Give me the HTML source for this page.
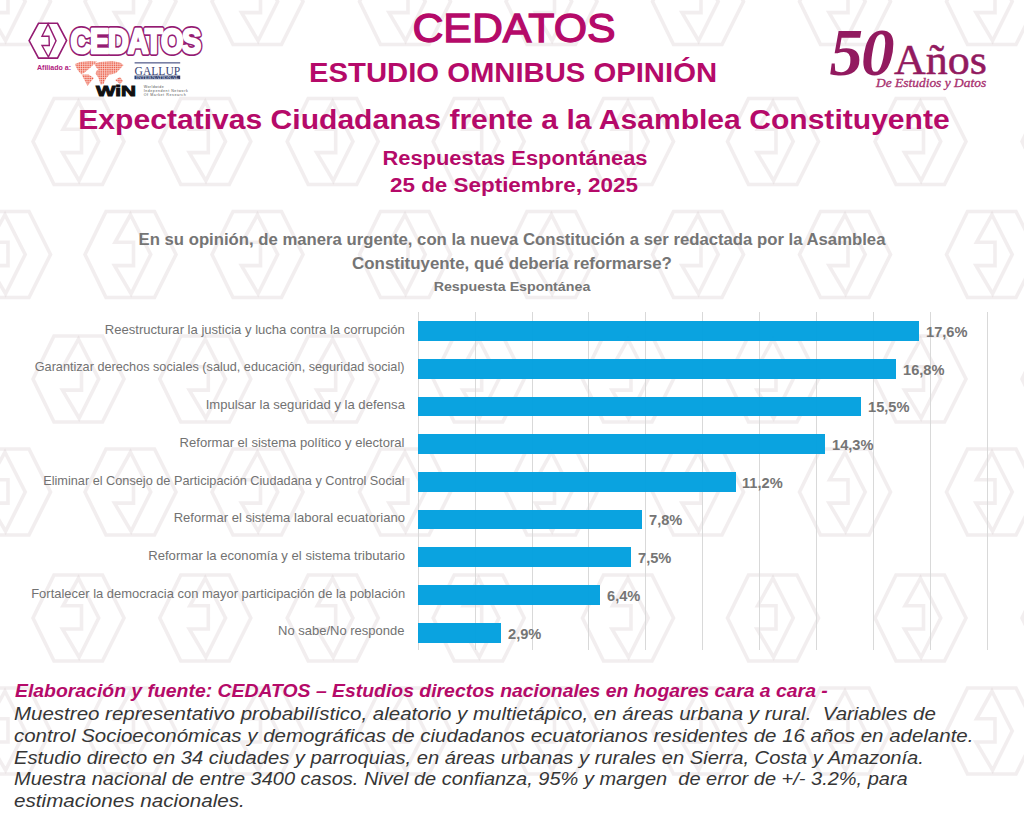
<!DOCTYPE html>
<html><head><meta charset="utf-8">
<style>
html,body{margin:0;padding:0;background:#fff;}
body{width:1024px;height:816px;position:relative;overflow:hidden;font-family:"Liberation Sans", sans-serif;}
.t{position:absolute;white-space:nowrap;}
</style></head><body>
<svg style="position:absolute;left:0;top:0" width="1024" height="816" viewBox="0 0 1024 816"><g fill="none" stroke="#d8ccd1" stroke-opacity="0.34" stroke-width="3.6" stroke-linejoin="miter"><polygon points="-40.5,1.5 -19.5,-41.5 29.0,-41.5 50.5,1.5 29.0,44.5 -19.5,44.5"/><polygon points="5.0,-38.3 25.2,1.5 5.6,40.7 -11.0,12.6 8.0,12.6 8.0,-10.7 -10.4,-10.7"/><polygon points="85.0,1.5 106.0,-41.5 154.5,-41.5 176.0,1.5 154.5,44.5 106.0,44.5"/><polygon points="130.5,-38.3 150.7,1.5 131.1,40.7 114.5,12.6 133.5,12.6 133.5,-10.7 115.1,-10.7"/><polygon points="212.0,1.5 233.0,-41.5 281.5,-41.5 303.0,1.5 281.5,44.5 233.0,44.5"/><polygon points="257.5,-38.3 277.7,1.5 258.1,40.7 241.5,12.6 260.5,12.6 260.5,-10.7 242.1,-10.7"/><polygon points="359.5,1.5 380.5,-41.5 429.0,-41.5 450.5,1.5 429.0,44.5 380.5,44.5"/><polygon points="405.0,-38.3 425.2,1.5 405.6,40.7 389.0,12.6 408.0,12.6 408.0,-10.7 389.6,-10.7"/><polygon points="506.0,1.5 527.0,-41.5 575.5,-41.5 597.0,1.5 575.5,44.5 527.0,44.5"/><polygon points="551.5,-38.3 571.7,1.5 552.1,40.7 535.5,12.6 554.5,12.6 554.5,-10.7 536.1,-10.7"/><polygon points="652.5,1.5 673.5,-41.5 722.0,-41.5 743.5,1.5 722.0,44.5 673.5,44.5"/><polygon points="698.0,-38.3 718.2,1.5 698.6,40.7 682.0,12.6 701.0,12.6 701.0,-10.7 682.6,-10.7"/><polygon points="799.5,1.5 820.5,-41.5 869.0,-41.5 890.5,1.5 869.0,44.5 820.5,44.5"/><polygon points="845.0,-38.3 865.2,1.5 845.6,40.7 829.0,12.6 848.0,12.6 848.0,-10.7 829.6,-10.7"/><polygon points="946.5,1.5 967.5,-41.5 1016.0,-41.5 1037.5,1.5 1016.0,44.5 967.5,44.5"/><polygon points="992.0,-38.3 1012.2,1.5 992.6,40.7 976.0,12.6 995.0,12.6 995.0,-10.7 976.6,-10.7"/><polygon points="-40.5,254.5 -19.5,211.5 29.0,211.5 50.5,254.5 29.0,297.5 -19.5,297.5"/><polygon points="5.0,214.7 25.2,254.5 5.6,293.7 -11.0,265.6 8.0,265.6 8.0,242.3 -10.4,242.3"/><polygon points="85.0,254.5 106.0,211.5 154.5,211.5 176.0,254.5 154.5,297.5 106.0,297.5"/><polygon points="130.5,214.7 150.7,254.5 131.1,293.7 114.5,265.6 133.5,265.6 133.5,242.3 115.1,242.3"/><polygon points="212.0,254.5 233.0,211.5 281.5,211.5 303.0,254.5 281.5,297.5 233.0,297.5"/><polygon points="257.5,214.7 277.7,254.5 258.1,293.7 241.5,265.6 260.5,265.6 260.5,242.3 242.1,242.3"/><polygon points="359.5,254.5 380.5,211.5 429.0,211.5 450.5,254.5 429.0,297.5 380.5,297.5"/><polygon points="405.0,214.7 425.2,254.5 405.6,293.7 389.0,265.6 408.0,265.6 408.0,242.3 389.6,242.3"/><polygon points="506.0,254.5 527.0,211.5 575.5,211.5 597.0,254.5 575.5,297.5 527.0,297.5"/><polygon points="551.5,214.7 571.7,254.5 552.1,293.7 535.5,265.6 554.5,265.6 554.5,242.3 536.1,242.3"/><polygon points="652.5,254.5 673.5,211.5 722.0,211.5 743.5,254.5 722.0,297.5 673.5,297.5"/><polygon points="698.0,214.7 718.2,254.5 698.6,293.7 682.0,265.6 701.0,265.6 701.0,242.3 682.6,242.3"/><polygon points="799.5,254.5 820.5,211.5 869.0,211.5 890.5,254.5 869.0,297.5 820.5,297.5"/><polygon points="845.0,214.7 865.2,254.5 845.6,293.7 829.0,265.6 848.0,265.6 848.0,242.3 829.6,242.3"/><polygon points="946.5,254.5 967.5,211.5 1016.0,211.5 1037.5,254.5 1016.0,297.5 967.5,297.5"/><polygon points="992.0,214.7 1012.2,254.5 992.6,293.7 976.0,265.6 995.0,265.6 995.0,242.3 976.6,242.3"/><polygon points="-40.5,492.0 -19.5,449.0 29.0,449.0 50.5,492.0 29.0,535.0 -19.5,535.0"/><polygon points="5.0,452.2 25.2,492.0 5.6,531.2 -11.0,503.1 8.0,503.1 8.0,479.8 -10.4,479.8"/><polygon points="85.0,492.0 106.0,449.0 154.5,449.0 176.0,492.0 154.5,535.0 106.0,535.0"/><polygon points="130.5,452.2 150.7,492.0 131.1,531.2 114.5,503.1 133.5,503.1 133.5,479.8 115.1,479.8"/><polygon points="212.0,492.0 233.0,449.0 281.5,449.0 303.0,492.0 281.5,535.0 233.0,535.0"/><polygon points="257.5,452.2 277.7,492.0 258.1,531.2 241.5,503.1 260.5,503.1 260.5,479.8 242.1,479.8"/><polygon points="359.5,492.0 380.5,449.0 429.0,449.0 450.5,492.0 429.0,535.0 380.5,535.0"/><polygon points="405.0,452.2 425.2,492.0 405.6,531.2 389.0,503.1 408.0,503.1 408.0,479.8 389.6,479.8"/><polygon points="506.0,492.0 527.0,449.0 575.5,449.0 597.0,492.0 575.5,535.0 527.0,535.0"/><polygon points="551.5,452.2 571.7,492.0 552.1,531.2 535.5,503.1 554.5,503.1 554.5,479.8 536.1,479.8"/><polygon points="652.5,492.0 673.5,449.0 722.0,449.0 743.5,492.0 722.0,535.0 673.5,535.0"/><polygon points="698.0,452.2 718.2,492.0 698.6,531.2 682.0,503.1 701.0,503.1 701.0,479.8 682.6,479.8"/><polygon points="799.5,492.0 820.5,449.0 869.0,449.0 890.5,492.0 869.0,535.0 820.5,535.0"/><polygon points="845.0,452.2 865.2,492.0 845.6,531.2 829.0,503.1 848.0,503.1 848.0,479.8 829.6,479.8"/><polygon points="946.5,492.0 967.5,449.0 1016.0,449.0 1037.5,492.0 1016.0,535.0 967.5,535.0"/><polygon points="992.0,452.2 1012.2,492.0 992.6,531.2 976.0,503.1 995.0,503.1 995.0,479.8 976.6,479.8"/><polygon points="-40.5,731.0 -19.5,688.0 29.0,688.0 50.5,731.0 29.0,774.0 -19.5,774.0"/><polygon points="5.0,691.2 25.2,731.0 5.6,770.2 -11.0,742.0 8.0,742.0 8.0,718.8 -10.4,718.8"/><polygon points="85.0,731.0 106.0,688.0 154.5,688.0 176.0,731.0 154.5,774.0 106.0,774.0"/><polygon points="130.5,691.2 150.7,731.0 131.1,770.2 114.5,742.0 133.5,742.0 133.5,718.8 115.1,718.8"/><polygon points="212.0,731.0 233.0,688.0 281.5,688.0 303.0,731.0 281.5,774.0 233.0,774.0"/><polygon points="257.5,691.2 277.7,731.0 258.1,770.2 241.5,742.0 260.5,742.0 260.5,718.8 242.1,718.8"/><polygon points="359.5,731.0 380.5,688.0 429.0,688.0 450.5,731.0 429.0,774.0 380.5,774.0"/><polygon points="405.0,691.2 425.2,731.0 405.6,770.2 389.0,742.0 408.0,742.0 408.0,718.8 389.6,718.8"/><polygon points="506.0,731.0 527.0,688.0 575.5,688.0 597.0,731.0 575.5,774.0 527.0,774.0"/><polygon points="551.5,691.2 571.7,731.0 552.1,770.2 535.5,742.0 554.5,742.0 554.5,718.8 536.1,718.8"/><polygon points="652.5,731.0 673.5,688.0 722.0,688.0 743.5,731.0 722.0,774.0 673.5,774.0"/><polygon points="698.0,691.2 718.2,731.0 698.6,770.2 682.0,742.0 701.0,742.0 701.0,718.8 682.6,718.8"/><polygon points="799.5,731.0 820.5,688.0 869.0,688.0 890.5,731.0 869.0,774.0 820.5,774.0"/><polygon points="845.0,691.2 865.2,731.0 845.6,770.2 829.0,742.0 848.0,742.0 848.0,718.8 829.6,718.8"/><polygon points="946.5,731.0 967.5,688.0 1016.0,688.0 1037.5,731.0 1016.0,774.0 967.5,774.0"/><polygon points="992.0,691.2 1012.2,731.0 992.6,770.2 976.0,742.0 995.0,742.0 995.0,718.8 976.6,718.8"/><polygon points="33.0,141.5 54.0,98.5 102.5,98.5 124.0,141.5 102.5,184.5 54.0,184.5"/><polygon points="78.5,101.7 98.7,141.5 79.1,180.7 62.5,152.6 81.5,152.6 81.5,129.3 63.1,129.3"/><polygon points="159.8,141.5 180.8,98.5 229.3,98.5 250.8,141.5 229.3,184.5 180.8,184.5"/><polygon points="205.3,101.7 225.5,141.5 205.9,180.7 189.3,152.6 208.3,152.6 208.3,129.3 189.9,129.3"/><polygon points="287.2,141.5 308.2,98.5 356.7,98.5 378.2,141.5 356.7,184.5 308.2,184.5"/><polygon points="332.7,101.7 352.9,141.5 333.3,180.7 316.7,152.6 335.7,152.6 335.7,129.3 317.3,129.3"/><polygon points="433.2,141.5 454.2,98.5 502.7,98.5 524.2,141.5 502.7,184.5 454.2,184.5"/><polygon points="478.7,101.7 498.9,141.5 479.3,180.7 462.7,152.6 481.7,152.6 481.7,129.3 463.3,129.3"/><polygon points="582.5,141.5 603.5,98.5 652.0,98.5 673.5,141.5 652.0,184.5 603.5,184.5"/><polygon points="628.0,101.7 648.2,141.5 628.6,180.7 612.0,152.6 631.0,152.6 631.0,129.3 612.6,129.3"/><polygon points="727.5,141.5 748.5,98.5 797.0,98.5 818.5,141.5 797.0,184.5 748.5,184.5"/><polygon points="773.0,101.7 793.2,141.5 773.6,180.7 757.0,152.6 776.0,152.6 776.0,129.3 757.6,129.3"/><polygon points="875.0,141.5 896.0,98.5 944.5,98.5 966.0,141.5 944.5,184.5 896.0,184.5"/><polygon points="920.5,101.7 940.7,141.5 921.1,180.7 904.5,152.6 923.5,152.6 923.5,129.3 905.1,129.3"/><polygon points="1022.0,141.5 1043.0,98.5 1091.5,98.5 1113.0,141.5 1091.5,184.5 1043.0,184.5"/><polygon points="1067.5,101.7 1087.7,141.5 1068.1,180.7 1051.5,152.6 1070.5,152.6 1070.5,129.3 1052.1,129.3"/><polygon points="33.0,379.0 54.0,336.0 102.5,336.0 124.0,379.0 102.5,422.0 54.0,422.0"/><polygon points="78.5,339.2 98.7,379.0 79.1,418.2 62.5,390.1 81.5,390.1 81.5,366.8 63.1,366.8"/><polygon points="159.8,379.0 180.8,336.0 229.3,336.0 250.8,379.0 229.3,422.0 180.8,422.0"/><polygon points="205.3,339.2 225.5,379.0 205.9,418.2 189.3,390.1 208.3,390.1 208.3,366.8 189.9,366.8"/><polygon points="287.2,379.0 308.2,336.0 356.7,336.0 378.2,379.0 356.7,422.0 308.2,422.0"/><polygon points="332.7,339.2 352.9,379.0 333.3,418.2 316.7,390.1 335.7,390.1 335.7,366.8 317.3,366.8"/><polygon points="433.2,379.0 454.2,336.0 502.7,336.0 524.2,379.0 502.7,422.0 454.2,422.0"/><polygon points="478.7,339.2 498.9,379.0 479.3,418.2 462.7,390.1 481.7,390.1 481.7,366.8 463.3,366.8"/><polygon points="582.5,379.0 603.5,336.0 652.0,336.0 673.5,379.0 652.0,422.0 603.5,422.0"/><polygon points="628.0,339.2 648.2,379.0 628.6,418.2 612.0,390.1 631.0,390.1 631.0,366.8 612.6,366.8"/><polygon points="727.5,379.0 748.5,336.0 797.0,336.0 818.5,379.0 797.0,422.0 748.5,422.0"/><polygon points="773.0,339.2 793.2,379.0 773.6,418.2 757.0,390.1 776.0,390.1 776.0,366.8 757.6,366.8"/><polygon points="875.0,379.0 896.0,336.0 944.5,336.0 966.0,379.0 944.5,422.0 896.0,422.0"/><polygon points="920.5,339.2 940.7,379.0 921.1,418.2 904.5,390.1 923.5,390.1 923.5,366.8 905.1,366.8"/><polygon points="1022.0,379.0 1043.0,336.0 1091.5,336.0 1113.0,379.0 1091.5,422.0 1043.0,422.0"/><polygon points="1067.5,339.2 1087.7,379.0 1068.1,418.2 1051.5,390.1 1070.5,390.1 1070.5,366.8 1052.1,366.8"/><polygon points="33.0,618.0 54.0,575.0 102.5,575.0 124.0,618.0 102.5,661.0 54.0,661.0"/><polygon points="78.5,578.2 98.7,618.0 79.1,657.2 62.5,629.0 81.5,629.0 81.5,605.8 63.1,605.8"/><polygon points="159.8,618.0 180.8,575.0 229.3,575.0 250.8,618.0 229.3,661.0 180.8,661.0"/><polygon points="205.3,578.2 225.5,618.0 205.9,657.2 189.3,629.0 208.3,629.0 208.3,605.8 189.9,605.8"/><polygon points="287.2,618.0 308.2,575.0 356.7,575.0 378.2,618.0 356.7,661.0 308.2,661.0"/><polygon points="332.7,578.2 352.9,618.0 333.3,657.2 316.7,629.0 335.7,629.0 335.7,605.8 317.3,605.8"/><polygon points="433.2,618.0 454.2,575.0 502.7,575.0 524.2,618.0 502.7,661.0 454.2,661.0"/><polygon points="478.7,578.2 498.9,618.0 479.3,657.2 462.7,629.0 481.7,629.0 481.7,605.8 463.3,605.8"/><polygon points="582.5,618.0 603.5,575.0 652.0,575.0 673.5,618.0 652.0,661.0 603.5,661.0"/><polygon points="628.0,578.2 648.2,618.0 628.6,657.2 612.0,629.0 631.0,629.0 631.0,605.8 612.6,605.8"/><polygon points="727.5,618.0 748.5,575.0 797.0,575.0 818.5,618.0 797.0,661.0 748.5,661.0"/><polygon points="773.0,578.2 793.2,618.0 773.6,657.2 757.0,629.0 776.0,629.0 776.0,605.8 757.6,605.8"/><polygon points="875.0,618.0 896.0,575.0 944.5,575.0 966.0,618.0 944.5,661.0 896.0,661.0"/><polygon points="920.5,578.2 940.7,618.0 921.1,657.2 904.5,629.0 923.5,629.0 923.5,605.8 905.1,605.8"/><polygon points="1022.0,618.0 1043.0,575.0 1091.5,575.0 1113.0,618.0 1091.5,661.0 1043.0,661.0"/><polygon points="1067.5,578.2 1087.7,618.0 1068.1,657.2 1051.5,629.0 1070.5,629.0 1070.5,605.8 1052.1,605.8"/></g></svg>
<div style="position:absolute;left:417.80px;top:312px;width:1px;height:338px;background:#d9d9d9"></div>
<div style="position:absolute;left:474.68px;top:312px;width:1px;height:338px;background:#d9d9d9"></div>
<div style="position:absolute;left:531.56px;top:312px;width:1px;height:338px;background:#d9d9d9"></div>
<div style="position:absolute;left:588.44px;top:312px;width:1px;height:338px;background:#d9d9d9"></div>
<div style="position:absolute;left:645.32px;top:312px;width:1px;height:338px;background:#d9d9d9"></div>
<div style="position:absolute;left:702.20px;top:312px;width:1px;height:338px;background:#d9d9d9"></div>
<div style="position:absolute;left:759.08px;top:312px;width:1px;height:338px;background:#d9d9d9"></div>
<div style="position:absolute;left:815.96px;top:312px;width:1px;height:338px;background:#d9d9d9"></div>
<div style="position:absolute;left:872.84px;top:312px;width:1px;height:338px;background:#d9d9d9"></div>
<div style="position:absolute;left:929.72px;top:312px;width:1px;height:338px;background:#d9d9d9"></div>
<div style="position:absolute;left:986.60px;top:312px;width:1px;height:338px;background:#d9d9d9"></div>
<div style="position:absolute;left:418.30px;top:321.10px;width:500.60px;height:19.7px;background:#009fdf;opacity:0.96"></div>
<div style="position:absolute;left:418.30px;top:358.82px;width:477.60px;height:19.7px;background:#009fdf;opacity:0.96"></div>
<div style="position:absolute;left:418.30px;top:396.54px;width:442.80px;height:19.7px;background:#009fdf;opacity:0.96"></div>
<div style="position:absolute;left:418.30px;top:434.26px;width:406.90px;height:19.7px;background:#009fdf;opacity:0.96"></div>
<div style="position:absolute;left:418.30px;top:471.98px;width:317.30px;height:19.7px;background:#009fdf;opacity:0.96"></div>
<div style="position:absolute;left:418.30px;top:509.70px;width:223.80px;height:19.7px;background:#009fdf;opacity:0.96"></div>
<div style="position:absolute;left:418.30px;top:547.42px;width:212.70px;height:19.7px;background:#009fdf;opacity:0.96"></div>
<div style="position:absolute;left:418.30px;top:585.14px;width:182.20px;height:19.7px;background:#009fdf;opacity:0.96"></div>
<div style="position:absolute;left:418.30px;top:622.86px;width:82.80px;height:19.7px;background:#009fdf;opacity:0.96"></div>
<svg style="position:absolute;left:0;top:0" width="220" height="110" viewBox="0 0 220 110">
<polygon points="29.1,40.55 38.5,23.3 57.5,23.3 66.6,40.55 57.5,58.1 38.5,58.1" fill="#fff" stroke="#941b72" stroke-width="1.6"/>
<polygon points="48.1,23.9 56.05,40.85 48.4,57 42,45.5 49.3,45.5 49,36.2 42,36.2" fill="none" stroke="#941b72" stroke-width="1.4"/>
<g transform="translate(70.5,0) scale(0.80,1) translate(-70.5,0)"><text x="70.5" y="53" font-family="Liberation Sans" font-weight="bold" font-size="36" letter-spacing="-1.5" fill="#941b72" stroke="#941b72" stroke-width="6" stroke-linejoin="round" textLength="162" lengthAdjust="spacingAndGlyphs">CEDATOS</text><text x="70.5" y="53" font-family="Liberation Sans" font-weight="bold" font-size="36" letter-spacing="-1.5" fill="#fff" stroke="#fff" stroke-width="2.6" stroke-linejoin="round" textLength="162" lengthAdjust="spacingAndGlyphs">CEDATOS</text></g>
<text x="37" y="70.3" font-family="Liberation Sans" font-weight="bold" font-size="7" fill="#b0207e" textLength="34" lengthAdjust="spacingAndGlyphs">Afiliado a:</text>
<g fill="#ec5a44">
<path d="M75,64 L80,62 L90,61 L97,61.5 L93,65 L90,68 L87,70.5 L84,73 L81,74 L78,70.5 L76,67 Z"/>
<path d="M81.5,74.5 L88.5,74.5 L94,78 L90.5,82 L87.5,86 L84.5,80 Z"/>
<path d="M94,63.5 L100,62 L112,61 L120,62.5 L123.5,65 L120,69 L116,73 L111,74.5 L106,74 L104,71 L99,70.5 L96,67 Z"/>
<path d="M97,70 L106,70.5 L109.5,74.5 L106,78.5 L103.5,84 L100.5,84.5 L98.5,78 L95.5,73.5 Z"/>
<path d="M115,80 L120,77 L123,81 L120,84 Z"/>
</g>
<g stroke="#fff" stroke-width="0.7" opacity="0.8">
<line x1="76.0" y1="60" x2="76.0" y2="88"/><line x1="78.2" y1="60" x2="78.2" y2="88"/><line x1="80.4" y1="60" x2="80.4" y2="88"/><line x1="82.6" y1="60" x2="82.6" y2="88"/><line x1="84.8" y1="60" x2="84.8" y2="88"/><line x1="87.0" y1="60" x2="87.0" y2="88"/><line x1="89.2" y1="60" x2="89.2" y2="88"/><line x1="91.4" y1="60" x2="91.4" y2="88"/><line x1="93.6" y1="60" x2="93.6" y2="88"/><line x1="95.8" y1="60" x2="95.8" y2="88"/><line x1="98.0" y1="60" x2="98.0" y2="88"/><line x1="100.2" y1="60" x2="100.2" y2="88"/><line x1="102.4" y1="60" x2="102.4" y2="88"/><line x1="104.6" y1="60" x2="104.6" y2="88"/><line x1="106.8" y1="60" x2="106.8" y2="88"/><line x1="109.0" y1="60" x2="109.0" y2="88"/><line x1="111.2" y1="60" x2="111.2" y2="88"/><line x1="113.4" y1="60" x2="113.4" y2="88"/><line x1="115.6" y1="60" x2="115.6" y2="88"/><line x1="117.8" y1="60" x2="117.8" y2="88"/><line x1="120.0" y1="60" x2="120.0" y2="88"/><line x1="122.2" y1="60" x2="122.2" y2="88"/><line x1="74" y1="62.0" x2="124" y2="62.0"/><line x1="74" y1="64.2" x2="124" y2="64.2"/><line x1="74" y1="66.4" x2="124" y2="66.4"/><line x1="74" y1="68.6" x2="124" y2="68.6"/><line x1="74" y1="70.8" x2="124" y2="70.8"/><line x1="74" y1="73.0" x2="124" y2="73.0"/><line x1="74" y1="75.2" x2="124" y2="75.2"/><line x1="74" y1="77.4" x2="124" y2="77.4"/><line x1="74" y1="79.6" x2="124" y2="79.6"/><line x1="74" y1="81.8" x2="124" y2="81.8"/><line x1="74" y1="84.0" x2="124" y2="84.0"/><line x1="74" y1="86.2" x2="124" y2="86.2"/>
</g>
<rect x="134.6" y="62.2" width="45.6" height="1.3" fill="#5a6390"/>
<text x="134.6" y="74.6" font-family="Liberation Serif" font-size="12" fill="#3a4474" textLength="45.6" lengthAdjust="spacingAndGlyphs">GALLUP</text>
<rect x="134.5" y="75.6" width="45.7" height="3.6" fill="#2f3a6a"/>
<text x="136" y="78.7" font-family="Liberation Serif" font-size="3.5" fill="#dfe2ee" textLength="42.5" lengthAdjust="spacingAndGlyphs">INTERNATIONAL</text>
<text x="96" y="95.7" font-family="Liberation Sans" font-weight="bold" font-size="14.5" fill="#111" stroke="#111" stroke-width="0.9" textLength="40" lengthAdjust="spacingAndGlyphs">WiN</text>
<text x="143.7" y="88.4" font-family="Liberation Sans" font-size="3.6" fill="#555" textLength="20">Worldwide</text>
<text x="143.7" y="92.4" font-family="Liberation Sans" font-size="3.6" fill="#555" textLength="44">Independent Network</text>
<text x="143.7" y="96.4" font-family="Liberation Sans" font-size="3.6" fill="#555" textLength="42">Of Market Research</text>
</svg>
<div class="t" style="left:829.50px;top:19.09px;font-size:67.00px;line-height:67.00px;font-weight:bold;font-style:italic;color:#921a5f;font-family:'Liberation Serif', serif;letter-spacing:-2px;">50</div>
<div class="t" style="left:893.50px;top:39.65px;font-size:41.50px;line-height:41.50px;font-weight:normal;font-style:normal;color:#921a5f;font-family:'Liberation Serif', serif;transform:scaleX(1.0600);transform-origin:left 0;-webkit-text-stroke:0.5px #921a5f;">Años</div>
<div class="t" style="left:875.50px;top:77.45px;font-size:12.00px;line-height:12.00px;font-weight:normal;font-style:italic;color:#a8306f;font-family:'Liberation Serif', serif;transform:scaleX(1.1200);transform-origin:left 0;-webkit-text-stroke:0.3px #a8306f;">De Estudios y Datos</div>
<div class="t" style="left:-485.65px;width:2000px;text-align:center;top:8.05px;font-size:40.80px;line-height:40.80px;font-weight:normal;font-style:normal;color:#b50a69;font-family:'Liberation Sans', sans-serif;transform:scaleX(1.0500);transform-origin:center 0;-webkit-text-stroke:1.3px #b50a69;">CEDATOS</div>
<div class="t" style="left:-486.55px;width:2000px;text-align:center;top:59.29px;font-size:28.00px;line-height:28.00px;font-weight:bold;font-style:normal;color:#b50a69;font-family:'Liberation Sans', sans-serif;transform:scaleX(1.0450);transform-origin:center 0;">ESTUDIO OMNIBUS OPINIÓN</div>
<div class="t" style="left:-485.75px;width:2000px;text-align:center;top:105.93px;font-size:27.60px;line-height:27.60px;font-weight:bold;font-style:normal;color:#b50a69;font-family:'Liberation Sans', sans-serif;transform:scaleX(1.0900);transform-origin:center 0;">Expectativas Ciudadanas frente a la Asamblea Constituyente</div>
<div class="t" style="left:-485.50px;width:2000px;text-align:center;top:148.00px;font-size:20.90px;line-height:20.90px;font-weight:bold;font-style:normal;color:#b50a69;font-family:'Liberation Sans', sans-serif;transform:scaleX(1.0470);transform-origin:center 0;">Respuestas Espontáneas</div>
<div class="t" style="left:-486.30px;width:2000px;text-align:center;top:175.39px;font-size:20.80px;line-height:20.80px;font-weight:bold;font-style:normal;color:#b50a69;font-family:'Liberation Sans', sans-serif;transform:scaleX(1.0780);transform-origin:center 0;">25 de Septiembre, 2025</div>
<div class="t" style="left:-487.60px;width:2000px;text-align:center;top:232.14px;font-size:16.60px;line-height:16.60px;font-weight:bold;font-style:normal;color:#757575;font-family:'Liberation Sans', sans-serif;transform:scaleX(1.0070);transform-origin:center 0;">En su opinión, de manera urgente, con la nueva Constitución a ser redactada por la Asamblea</div>
<div class="t" style="left:-487.60px;width:2000px;text-align:center;top:255.94px;font-size:16.60px;line-height:16.60px;font-weight:bold;font-style:normal;color:#757575;font-family:'Liberation Sans', sans-serif;transform:scaleX(1.0170);transform-origin:center 0;">Constituyente, qué debería reformarse?</div>
<div class="t" style="left:-488.40px;width:2000px;text-align:center;top:280.30px;font-size:13.70px;line-height:13.70px;font-weight:bold;font-style:normal;color:#757575;font-family:'Liberation Sans', sans-serif;transform:scaleX(1.0400);transform-origin:center 0;">Respuesta Espontánea</div>
<div class="t" style="right:619.10px;top:323.66px;font-size:12.80px;line-height:12.80px;font-weight:normal;font-style:normal;color:#727272;font-family:'Liberation Sans', sans-serif;transform:scaleX(1.0210);transform-origin:right 0;">Reestructurar la justicia y lucha contra la corrupción</div>
<div class="t" style="left:925.50px;top:323.86px;font-size:15.40px;line-height:15.40px;font-weight:bold;font-style:normal;color:#757575;font-family:'Liberation Sans', sans-serif;transform:scaleX(0.9500);transform-origin:left 0;">17,6%</div>
<div class="t" style="right:619.10px;top:361.38px;font-size:12.80px;line-height:12.80px;font-weight:normal;font-style:normal;color:#727272;font-family:'Liberation Sans', sans-serif;transform:scaleX(0.9900);transform-origin:right 0;">Garantizar derechos sociales (salud, educación, seguridad social)</div>
<div class="t" style="left:902.50px;top:361.58px;font-size:15.40px;line-height:15.40px;font-weight:bold;font-style:normal;color:#757575;font-family:'Liberation Sans', sans-serif;transform:scaleX(0.9500);transform-origin:left 0;">16,8%</div>
<div class="t" style="right:619.10px;top:399.10px;font-size:12.80px;line-height:12.80px;font-weight:normal;font-style:normal;color:#727272;font-family:'Liberation Sans', sans-serif;transform:scaleX(1.0220);transform-origin:right 0;">Impulsar la seguridad y la defensa</div>
<div class="t" style="left:867.70px;top:399.30px;font-size:15.40px;line-height:15.40px;font-weight:bold;font-style:normal;color:#757575;font-family:'Liberation Sans', sans-serif;transform:scaleX(0.9500);transform-origin:left 0;">15,5%</div>
<div class="t" style="right:619.10px;top:436.82px;font-size:12.80px;line-height:12.80px;font-weight:normal;font-style:normal;color:#727272;font-family:'Liberation Sans', sans-serif;transform:scaleX(1.0200);transform-origin:right 0;">Reformar el sistema político y electoral</div>
<div class="t" style="left:831.80px;top:437.02px;font-size:15.40px;line-height:15.40px;font-weight:bold;font-style:normal;color:#757575;font-family:'Liberation Sans', sans-serif;transform:scaleX(0.9500);transform-origin:left 0;">14,3%</div>
<div class="t" style="right:619.10px;top:474.54px;font-size:12.80px;line-height:12.80px;font-weight:normal;font-style:normal;color:#727272;font-family:'Liberation Sans', sans-serif;transform:scaleX(0.9940);transform-origin:right 0;">Eliminar el Consejo de Participación Ciudadana y Control Social</div>
<div class="t" style="left:742.20px;top:474.74px;font-size:15.40px;line-height:15.40px;font-weight:bold;font-style:normal;color:#757575;font-family:'Liberation Sans', sans-serif;transform:scaleX(0.9500);transform-origin:left 0;">11,2%</div>
<div class="t" style="right:619.10px;top:512.26px;font-size:12.80px;line-height:12.80px;font-weight:normal;font-style:normal;color:#727272;font-family:'Liberation Sans', sans-serif;transform:scaleX(1.0190);transform-origin:right 0;">Reformar el sistema laboral ecuatoriano</div>
<div class="t" style="left:648.70px;top:512.46px;font-size:15.40px;line-height:15.40px;font-weight:bold;font-style:normal;color:#757575;font-family:'Liberation Sans', sans-serif;transform:scaleX(0.9500);transform-origin:left 0;">7,8%</div>
<div class="t" style="right:619.10px;top:549.98px;font-size:12.80px;line-height:12.80px;font-weight:normal;font-style:normal;color:#727272;font-family:'Liberation Sans', sans-serif;transform:scaleX(1.0230);transform-origin:right 0;">Reformar la economía y el sistema tributario</div>
<div class="t" style="left:637.60px;top:550.18px;font-size:15.40px;line-height:15.40px;font-weight:bold;font-style:normal;color:#757575;font-family:'Liberation Sans', sans-serif;transform:scaleX(0.9500);transform-origin:left 0;">7,5%</div>
<div class="t" style="right:619.10px;top:587.70px;font-size:12.80px;line-height:12.80px;font-weight:normal;font-style:normal;color:#727272;font-family:'Liberation Sans', sans-serif;transform:scaleX(1.0130);transform-origin:right 0;">Fortalecer la democracia con mayor participación de la población</div>
<div class="t" style="left:607.10px;top:587.90px;font-size:15.40px;line-height:15.40px;font-weight:bold;font-style:normal;color:#757575;font-family:'Liberation Sans', sans-serif;transform:scaleX(0.9500);transform-origin:left 0;">6,4%</div>
<div class="t" style="right:619.10px;top:625.42px;font-size:12.80px;line-height:12.80px;font-weight:normal;font-style:normal;color:#727272;font-family:'Liberation Sans', sans-serif;transform:scaleX(1.0160);transform-origin:right 0;">No sabe/No responde</div>
<div class="t" style="left:507.70px;top:625.62px;font-size:15.40px;line-height:15.40px;font-weight:bold;font-style:normal;color:#757575;font-family:'Liberation Sans', sans-serif;transform:scaleX(0.9500);transform-origin:left 0;">2,9%</div>
<div class="t" style="left:14.60px;top:681.64px;font-size:18.50px;line-height:18.50px;font-weight:bold;font-style:italic;color:#b50a69;font-family:'Liberation Sans', sans-serif;transform:scaleX(1.0480);transform-origin:left 0;">Elaboración y fuente: CEDATOS – Estudios directos nacionales en hogares cara a cara -</div>
<div class="t" style="left:14.30px;top:704.84px;font-size:18.50px;line-height:18.50px;font-weight:normal;font-style:italic;color:#363636;font-family:'Liberation Sans', sans-serif;transform:scaleX(1.1077);transform-origin:left 0;">Muestreo representativo probabilístico, aleatorio y multietápico, en áreas urbana y rural.&nbsp; Variables de</div>
<div class="t" style="left:14.30px;top:726.69px;font-size:18.50px;line-height:18.50px;font-weight:normal;font-style:italic;color:#363636;font-family:'Liberation Sans', sans-serif;transform:scaleX(1.1066);transform-origin:left 0;">control Socioeconómicas y demográficas de ciudadanos ecuatorianos residentes de 16 años en adelante.</div>
<div class="t" style="left:14.30px;top:748.54px;font-size:18.50px;line-height:18.50px;font-weight:normal;font-style:italic;color:#363636;font-family:'Liberation Sans', sans-serif;transform:scaleX(1.0879);transform-origin:left 0;">Estudio directo en 34 ciudades y parroquias, en áreas urbanas y rurales en Sierra, Costa y Amazonía.</div>
<div class="t" style="left:14.30px;top:770.39px;font-size:18.50px;line-height:18.50px;font-weight:normal;font-style:italic;color:#363636;font-family:'Liberation Sans', sans-serif;transform:scaleX(1.0802);transform-origin:left 0;">Muestra nacional de entre 3400 casos. Nivel de confianza, 95% y margen&nbsp; de error de +/- 3.2%, para</div>
<div class="t" style="left:14.30px;top:792.24px;font-size:18.50px;line-height:18.50px;font-weight:normal;font-style:italic;color:#363636;font-family:'Liberation Sans', sans-serif;transform:scaleX(1.1165);transform-origin:left 0;">estimaciones nacionales.</div>

</body></html>
